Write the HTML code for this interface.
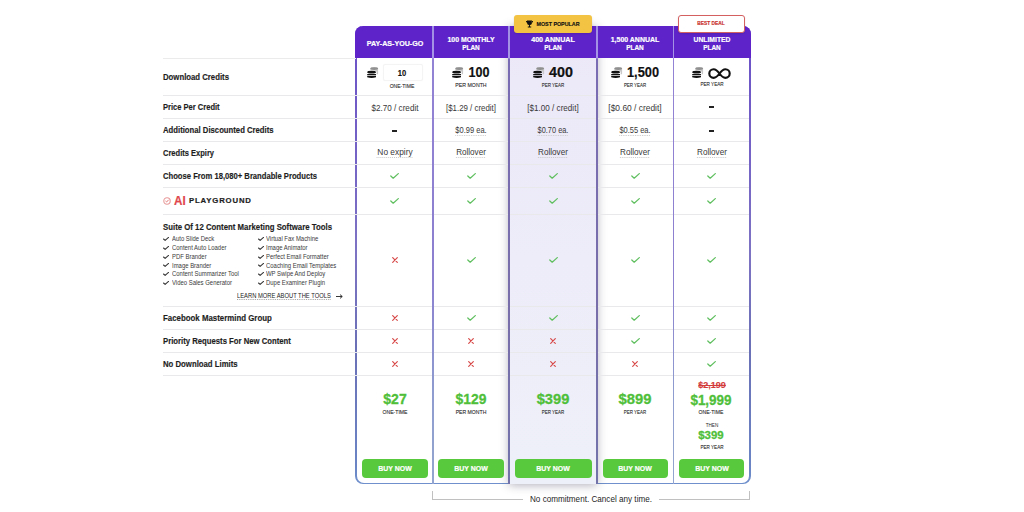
<!DOCTYPE html><html><head><meta charset="utf-8"><style>
html,body{margin:0;padding:0;background:#fff;}
body{width:1024px;height:512px;overflow:hidden;position:relative;font-family:"Liberation Sans", sans-serif;}
.t{position:absolute;white-space:nowrap;}
</style></head><body>
<div class="t" style="left:355px;top:26px;width:396px;height:458px;border-radius:8px;background:linear-gradient(#6a4fc8 0%,#7d73c3 50%,#6b70b6 70%,#6a84c4 96%,#6f90cc 100%);"></div>
<div class="t" style="left:357px;top:26px;width:392px;height:456.5px;border-radius:7px;background:#fff;"></div>
<div class="t" style="left:509px;top:26px;width:88px;height:458px;background:linear-gradient(#ece8f8,#eef0f9);box-shadow:0 1px 9px rgba(40,40,70,0.38);"></div>
<div class="t" style="left:355px;top:26px;width:396px;height:32px;border-radius:8px 8px 0 0;background:#5e24c9;"></div>
<div class="t" style="left:163px;top:95px;width:586px;height:1px;background:#e9e9eb;"></div>
<div class="t" style="left:163px;top:118px;width:586px;height:1px;background:#e9e9eb;"></div>
<div class="t" style="left:163px;top:141px;width:586px;height:1px;background:#e9e9eb;"></div>
<div class="t" style="left:163px;top:164px;width:586px;height:1px;background:#e9e9eb;"></div>
<div class="t" style="left:163px;top:187px;width:586px;height:1px;background:#e9e9eb;"></div>
<div class="t" style="left:163px;top:214px;width:586px;height:1px;background:#e9e9eb;"></div>
<div class="t" style="left:163px;top:306px;width:586px;height:1px;background:#e9e9eb;"></div>
<div class="t" style="left:163px;top:329px;width:586px;height:1px;background:#e9e9eb;"></div>
<div class="t" style="left:163px;top:352px;width:586px;height:1px;background:#e9e9eb;"></div>
<div class="t" style="left:163px;top:375px;width:586px;height:1px;background:#e9e9eb;"></div>
<div class="t" style="left:163px;top:58px;width:193px;height:1px;background:#ebebeb;"></div>
<div class="t" style="left:432px;top:26px;width:1.6px;height:458px;background:linear-gradient(#a08ee4 0px,#a795e6 32px,#9383d4 33px,#8c7fd0 55%,#8e9ccf 80%,#94a6cf);"></div>
<div class="t" style="left:508px;top:26px;width:2px;height:458px;background:linear-gradient(#a08ee4 0px,#a795e6 32px,#7a6cb4 33px,#786eaa 60%,#7373aa);"></div>
<div class="t" style="left:596px;top:26px;width:2px;height:458px;background:linear-gradient(#a08ee4 0px,#a795e6 32px,#7a6cb4 33px,#786eaa 60%,#7373aa);"></div>
<div class="t" style="left:672.5px;top:26px;width:1.5px;height:458px;background:linear-gradient(#a08ee4 0px,#a795e6 32px,#9383d4 33px,#8c7fd0 55%,#8e9ccf 80%,#94a6cf);"></div>
<div class="t" style="left:244.5px;width:300px;text-align:center;top:35.699999999999996px;height:15.2px;line-height:15.2px;font-size:7.6px;font-weight:bold;color:#fff;-webkit-text-stroke:0.2px #fff;transform:scaleX(0.9380);transform-origin:50% 50%;">PAY-AS-YOU-GO</div>
<div class="t" style="left:321.0px;width:300px;text-align:center;top:32.0px;height:15.2px;line-height:15.2px;font-size:7.6px;font-weight:bold;color:#fff;-webkit-text-stroke:0.2px #fff;transform:scaleX(0.9123);transform-origin:50% 50%;">100 MONTHLY</div>
<div class="t" style="left:321.0px;width:300px;text-align:center;top:39.9px;height:15.2px;line-height:15.2px;font-size:7.6px;font-weight:bold;color:#fff;-webkit-text-stroke:0.2px #fff;transform:scaleX(0.8514);transform-origin:50% 50%;">PLAN</div>
<div class="t" style="left:403.0px;width:300px;text-align:center;top:32.0px;height:15.2px;line-height:15.2px;font-size:7.6px;font-weight:bold;color:#fff;-webkit-text-stroke:0.2px #fff;transform:scaleX(0.9364);transform-origin:50% 50%;">400 ANNUAL</div>
<div class="t" style="left:403.0px;width:300px;text-align:center;top:39.9px;height:15.2px;line-height:15.2px;font-size:7.6px;font-weight:bold;color:#fff;-webkit-text-stroke:0.2px #fff;transform:scaleX(0.8514);transform-origin:50% 50%;">PLAN</div>
<div class="t" style="left:485.0px;width:300px;text-align:center;top:32.0px;height:15.2px;line-height:15.2px;font-size:7.6px;font-weight:bold;color:#fff;-webkit-text-stroke:0.2px #fff;transform:scaleX(0.9170);transform-origin:50% 50%;">1,500 ANNUAL</div>
<div class="t" style="left:485.0px;width:300px;text-align:center;top:39.9px;height:15.2px;line-height:15.2px;font-size:7.6px;font-weight:bold;color:#fff;-webkit-text-stroke:0.2px #fff;transform:scaleX(0.8514);transform-origin:50% 50%;">PLAN</div>
<div class="t" style="left:561.5px;width:300px;text-align:center;top:32.0px;height:15.2px;line-height:15.2px;font-size:7.6px;font-weight:bold;color:#fff;-webkit-text-stroke:0.2px #fff;transform:scaleX(0.8901);transform-origin:50% 50%;">UNLIMITED</div>
<div class="t" style="left:561.5px;width:300px;text-align:center;top:39.9px;height:15.2px;line-height:15.2px;font-size:7.6px;font-weight:bold;color:#fff;-webkit-text-stroke:0.2px #fff;transform:scaleX(0.8514);transform-origin:50% 50%;">PLAN</div>
<div class="t" style="left:514px;top:15px;width:78px;height:18px;border-radius:3px;background:#f3c443;box-shadow:0 1px 2px rgba(0,0,0,0.12);"></div>
<svg class="t" style="left:526px;top:20px" width="7" height="8" viewBox="0 0 7 8"><path d="M1 0.5 H6 V3 Q6 5 3.5 5.2 Q1 5 1 3Z M0 1 H1.2 V2.8 Q0 2.6 0 1.6Z M7 1 H5.8 V2.8 Q7 2.6 7 1.6Z M3 5 H4 V6.5 H3Z M1.8 6.5 H5.2 V7.6 H1.8Z" fill="#111"/></svg>
<div class="t" style="left:407.5px;width:300px;text-align:center;top:17.6px;height:12.4px;line-height:12.4px;font-size:6.2px;font-weight:bold;color:#111;-webkit-text-stroke:0.15px #111;transform:scaleX(0.8624);transform-origin:50% 50%;">MOST POPULAR</div>
<div class="t" style="left:678px;top:15px;width:65px;height:16px;border-radius:3px;background:#fff;border:1px solid #d46060;box-shadow:0 1px 2px rgba(0,0,0,0.12);"></div>
<div class="t" style="left:561.4px;width:300px;text-align:center;top:18.2px;height:11.6px;line-height:11.6px;font-size:5.8px;font-weight:bold;color:#c9302c;-webkit-text-stroke:0.2px #c9302c;transform:scaleX(0.8308);transform-origin:50% 50%;">BEST DEAL</div>
<div class="t" style="left:163px;top:68.6px;height:16.8px;line-height:16.8px;font-size:8.4px;font-weight:bold;color:#1e1e1e;-webkit-text-stroke:0.15px #1e1e1e;transform:scaleX(0.9269);transform-origin:0 50%;">Download Credits</div>
<div class="t" style="left:163px;top:98.6px;height:16.8px;line-height:16.8px;font-size:8.4px;font-weight:bold;color:#1e1e1e;-webkit-text-stroke:0.15px #1e1e1e;transform:scaleX(0.9006);transform-origin:0 50%;">Price Per Credit</div>
<div class="t" style="left:163px;top:121.6px;height:16.8px;line-height:16.8px;font-size:8.4px;font-weight:bold;color:#1e1e1e;-webkit-text-stroke:0.15px #1e1e1e;transform:scaleX(0.9212);transform-origin:0 50%;">Additional Discounted Credits</div>
<div class="t" style="left:163px;top:144.6px;height:16.8px;line-height:16.8px;font-size:8.4px;font-weight:bold;color:#1e1e1e;-webkit-text-stroke:0.15px #1e1e1e;transform:scaleX(0.8979);transform-origin:0 50%;">Credits Expiry</div>
<div class="t" style="left:163px;top:167.6px;height:16.8px;line-height:16.8px;font-size:8.4px;font-weight:bold;color:#1e1e1e;-webkit-text-stroke:0.15px #1e1e1e;transform:scaleX(0.9128);transform-origin:0 50%;">Choose From 18,080+ Brandable Products</div>
<div class="t" style="left:163px;top:309.6px;height:16.8px;line-height:16.8px;font-size:8.4px;font-weight:bold;color:#1e1e1e;-webkit-text-stroke:0.15px #1e1e1e;transform:scaleX(0.9389);transform-origin:0 50%;">Facebook Mastermind Group</div>
<div class="t" style="left:163px;top:332.6px;height:16.8px;line-height:16.8px;font-size:8.4px;font-weight:bold;color:#1e1e1e;-webkit-text-stroke:0.15px #1e1e1e;transform:scaleX(0.9223);transform-origin:0 50%;">Priority Requests For New Content</div>
<div class="t" style="left:163px;top:355.6px;height:16.8px;line-height:16.8px;font-size:8.4px;font-weight:bold;color:#1e1e1e;-webkit-text-stroke:0.15px #1e1e1e;transform:scaleX(0.9267);transform-origin:0 50%;">No Download Limits</div>
<svg class="t" style="left:367px;top:67px" width="12" height="12" viewBox="0 0 12 12">
<path d="M3.3 1.6 A3.9 1.4 0 0 1 11.1 1.6 L11.1 6.4 A3.9 1.4 0 0 1 3.3 6.4Z" fill="#c8c8c8"/>
<ellipse cx="7.2" cy="1.6" rx="3.9" ry="1.4" fill="#909090"/>
<path d="M-0.5 5.3 A5.1 2.0 0 0 1 9.7 5.3 L9.7 12 L-0.5 12Z" fill="#fff"/>
<ellipse cx="4.6" cy="5.2" rx="4.4" ry="1.35" fill="#111"/>
<rect x="0.2" y="7" width="8.8" height="1.3" fill="#111"/>
<path d="M0.2 9 H9 V10.2 Q4.6 11.6 0.2 10.2Z" fill="#111"/>
</svg>
<div class="t" style="left:383px;top:64px;width:38px;height:15px;border:1px solid #f4f4f4;border-radius:2px;box-shadow:0 0 1px rgba(0,0,0,0.06);"></div>
<div class="t" style="left:252.2px;width:300px;text-align:center;top:62.6px;height:19.2px;line-height:19.2px;font-size:9.6px;font-weight:bold;color:#111;-webkit-text-stroke:0.15px #111;transform:scaleX(0.7871);transform-origin:50% 50%;">10</div>
<div class="t" style="left:252.3px;width:300px;text-align:center;top:80.95px;height:11.6px;line-height:11.6px;font-size:5.8px;font-weight:normal;color:#2a2a2a;-webkit-text-stroke:0.1px #2a2a2a;transform:scaleX(0.8679);transform-origin:50% 50%;">ONE-TIME</div>
<svg class="t" style="left:452px;top:67px" width="12" height="12" viewBox="0 0 12 12">
<path d="M3.3 1.6 A3.9 1.4 0 0 1 11.1 1.6 L11.1 6.4 A3.9 1.4 0 0 1 3.3 6.4Z" fill="#c8c8c8"/>
<ellipse cx="7.2" cy="1.6" rx="3.9" ry="1.4" fill="#909090"/>
<path d="M-0.5 5.3 A5.1 2.0 0 0 1 9.7 5.3 L9.7 12 L-0.5 12Z" fill="#fff"/>
<ellipse cx="4.6" cy="5.2" rx="4.4" ry="1.35" fill="#111"/>
<rect x="0.2" y="7" width="8.8" height="1.3" fill="#111"/>
<path d="M0.2 9 H9 V10.2 Q4.6 11.6 0.2 10.2Z" fill="#111"/>
</svg>
<div class="t" style="left:328.5px;width:300px;text-align:center;top:58.60000000000001px;height:27.6px;line-height:27.6px;font-size:13.8px;font-weight:bold;color:#111;-webkit-text-stroke:0.2px #111;transform:scaleX(0.9118);transform-origin:50% 50%;">100</div>
<div class="t" style="left:321.0px;width:300px;text-align:center;top:80.0px;height:11.6px;line-height:11.6px;font-size:5.8px;font-weight:normal;color:#2a2a2a;-webkit-text-stroke:0.1px #2a2a2a;transform:scaleX(0.8995);transform-origin:50% 50%;">PER MONTH</div>
<svg class="t" style="left:532.5px;top:67px" width="12" height="12" viewBox="0 0 12 12">
<path d="M3.3 1.6 A3.9 1.4 0 0 1 11.1 1.6 L11.1 6.4 A3.9 1.4 0 0 1 3.3 6.4Z" fill="#c8c8c8"/>
<ellipse cx="7.2" cy="1.6" rx="3.9" ry="1.4" fill="#909090"/>
<path d="M-0.5 5.3 A5.1 2.0 0 0 1 9.7 5.3 L9.7 12 L-0.5 12Z" fill="#ece8f8"/>
<ellipse cx="4.6" cy="5.2" rx="4.4" ry="1.35" fill="#111"/>
<rect x="0.2" y="7" width="8.8" height="1.3" fill="#111"/>
<path d="M0.2 9 H9 V10.2 Q4.6 11.6 0.2 10.2Z" fill="#111"/>
</svg>
<div class="t" style="left:411px;width:300px;text-align:center;top:58.60000000000001px;height:27.6px;line-height:27.6px;font-size:13.8px;font-weight:bold;color:#111;-webkit-text-stroke:0.2px #111;transform:scaleX(1.0377);transform-origin:50% 50%;">400</div>
<div class="t" style="left:403.0px;width:300px;text-align:center;top:80.0px;height:11.6px;line-height:11.6px;font-size:5.8px;font-weight:normal;color:#2a2a2a;-webkit-text-stroke:0.1px #2a2a2a;transform:scaleX(0.7666);transform-origin:50% 50%;">PER YEAR</div>
<svg class="t" style="left:610.5px;top:67px" width="12" height="12" viewBox="0 0 12 12">
<path d="M3.3 1.6 A3.9 1.4 0 0 1 11.1 1.6 L11.1 6.4 A3.9 1.4 0 0 1 3.3 6.4Z" fill="#c8c8c8"/>
<ellipse cx="7.2" cy="1.6" rx="3.9" ry="1.4" fill="#909090"/>
<path d="M-0.5 5.3 A5.1 2.0 0 0 1 9.7 5.3 L9.7 12 L-0.5 12Z" fill="#fff"/>
<ellipse cx="4.6" cy="5.2" rx="4.4" ry="1.35" fill="#111"/>
<rect x="0.2" y="7" width="8.8" height="1.3" fill="#111"/>
<path d="M0.2 9 H9 V10.2 Q4.6 11.6 0.2 10.2Z" fill="#111"/>
</svg>
<div class="t" style="left:493px;width:300px;text-align:center;top:58.60000000000001px;height:27.6px;line-height:27.6px;font-size:13.8px;font-weight:bold;color:#111;-webkit-text-stroke:0.2px #111;transform:scaleX(0.9267);transform-origin:50% 50%;">1,500</div>
<div class="t" style="left:485.0px;width:300px;text-align:center;top:80.0px;height:11.6px;line-height:11.6px;font-size:5.8px;font-weight:normal;color:#2a2a2a;-webkit-text-stroke:0.1px #2a2a2a;transform:scaleX(0.7598);transform-origin:50% 50%;">PER YEAR</div>
<svg class="t" style="left:691.5px;top:67px" width="12" height="12" viewBox="0 0 12 12">
<path d="M3.3 1.6 A3.9 1.4 0 0 1 11.1 1.6 L11.1 6.4 A3.9 1.4 0 0 1 3.3 6.4Z" fill="#c8c8c8"/>
<ellipse cx="7.2" cy="1.6" rx="3.9" ry="1.4" fill="#909090"/>
<path d="M-0.5 5.3 A5.1 2.0 0 0 1 9.7 5.3 L9.7 12 L-0.5 12Z" fill="#fff"/>
<ellipse cx="4.6" cy="5.2" rx="4.4" ry="1.35" fill="#111"/>
<rect x="0.2" y="7" width="8.8" height="1.3" fill="#111"/>
<path d="M0.2 9 H9 V10.2 Q4.6 11.6 0.2 10.2Z" fill="#111"/>
</svg>
<svg class="t" style="left:708px;top:67.5px" width="23" height="11" viewBox="0 0 23 11"><path d="M11.5 5.5 C9 2 7.5 1.2 5.6 1.2 C3.2 1.2 1.3 3.1 1.3 5.5 C1.3 7.9 3.2 9.8 5.6 9.8 C7.5 9.8 9 9 11.5 5.5 C14 2 15.5 1.2 17.4 1.2 C19.8 1.2 21.7 3.1 21.7 5.5 C21.7 7.9 19.8 9.8 17.4 9.8 C15.5 9.8 14 9 11.5 5.5Z" fill="none" stroke="#111" stroke-width="2.15"/></svg>
<div class="t" style="left:561.6px;width:300px;text-align:center;top:78.8px;height:11.6px;line-height:11.6px;font-size:5.8px;font-weight:normal;color:#2a2a2a;-webkit-text-stroke:0.1px #2a2a2a;transform:scaleX(0.7940);transform-origin:50% 50%;">PER YEAR</div>
<div class="t" style="left:244.5px;width:300px;text-align:center;top:99.9px;height:17.2px;line-height:17.2px;font-size:8.6px;font-weight:normal;color:#383838;transform:scaleX(0.9439);transform-origin:50% 50%;">$2.70 / credit</div>
<div class="t" style="left:392.0px;top:130px;width:5px;height:1.6px;background:#222;"></div>
<div class="t" style="left:244.5px;width:300px;text-align:center;top:144.3px;height:17.2px;line-height:17.2px;font-size:8.6px;font-weight:normal;color:#383838;text-decoration:underline dotted #c8c8c8;text-underline-offset:1.6px;transform:scaleX(0.9712);transform-origin:50% 50%;">No expiry</div>
<div class="t" style="left:321.0px;width:300px;text-align:center;top:99.9px;height:17.2px;line-height:17.2px;font-size:8.6px;font-weight:normal;color:#383838;transform:scaleX(0.9180);transform-origin:50% 50%;">[$1.29 / credit]</div>
<div class="t" style="left:321.0px;width:300px;text-align:center;top:121.5px;height:17.2px;line-height:17.2px;font-size:8.6px;font-weight:normal;color:#383838;text-decoration:underline dotted #c8c8c8;text-underline-offset:1.6px;transform:scaleX(0.8732);transform-origin:50% 50%;">$0.99 ea.</div>
<div class="t" style="left:321.0px;width:300px;text-align:center;top:144.3px;height:17.2px;line-height:17.2px;font-size:8.6px;font-weight:normal;color:#383838;text-decoration:underline dotted #c8c8c8;text-underline-offset:1.6px;transform:scaleX(0.9419);transform-origin:50% 50%;">Rollover</div>
<div class="t" style="left:403.0px;width:300px;text-align:center;top:99.9px;height:17.2px;line-height:17.2px;font-size:8.6px;font-weight:normal;color:#383838;transform:scaleX(0.9418);transform-origin:50% 50%;">[$1.00 / credit]</div>
<div class="t" style="left:403.0px;width:300px;text-align:center;top:121.5px;height:17.2px;line-height:17.2px;font-size:8.6px;font-weight:normal;color:#383838;text-decoration:underline dotted #c8c8c8;text-underline-offset:1.6px;transform:scaleX(0.8593);transform-origin:50% 50%;">$0.70 ea.</div>
<div class="t" style="left:403.0px;width:300px;text-align:center;top:144.3px;height:17.2px;line-height:17.2px;font-size:8.6px;font-weight:normal;color:#383838;text-decoration:underline dotted #c8c8c8;text-underline-offset:1.6px;transform:scaleX(0.9451);transform-origin:50% 50%;">Rollover</div>
<div class="t" style="left:485.0px;width:300px;text-align:center;top:99.9px;height:17.2px;line-height:17.2px;font-size:8.6px;font-weight:normal;color:#383838;transform:scaleX(0.9785);transform-origin:50% 50%;">[$0.60 / credit]</div>
<div class="t" style="left:485.0px;width:300px;text-align:center;top:121.5px;height:17.2px;line-height:17.2px;font-size:8.6px;font-weight:normal;color:#383838;text-decoration:underline dotted #c8c8c8;text-underline-offset:1.6px;transform:scaleX(0.8704);transform-origin:50% 50%;">$0.55 ea.</div>
<div class="t" style="left:485.0px;width:300px;text-align:center;top:144.3px;height:17.2px;line-height:17.2px;font-size:8.6px;font-weight:normal;color:#383838;text-decoration:underline dotted #c8c8c8;text-underline-offset:1.6px;transform:scaleX(0.9451);transform-origin:50% 50%;">Rollover</div>
<div class="t" style="left:709.0px;top:106px;width:5px;height:1.6px;background:#222;"></div>
<div class="t" style="left:709.0px;top:130px;width:5px;height:1.6px;background:#222;"></div>
<div class="t" style="left:561.5px;width:300px;text-align:center;top:144.3px;height:17.2px;line-height:17.2px;font-size:8.6px;font-weight:normal;color:#383838;text-decoration:underline dotted #c8c8c8;text-underline-offset:1.6px;transform:scaleX(0.9451);transform-origin:50% 50%;">Rollover</div>
<svg class="t" style="left:390.0px;top:172.5px" width="9" height="6" viewBox="0 0 9 6"><path d="M0.8 3 L3.2 5.2 L8.3 0.6" fill="none" stroke="#5fbf5f" stroke-width="1.25" stroke-linecap="round" stroke-linejoin="round"/></svg>
<svg class="t" style="left:466.5px;top:172.5px" width="9" height="6" viewBox="0 0 9 6"><path d="M0.8 3 L3.2 5.2 L8.3 0.6" fill="none" stroke="#5fbf5f" stroke-width="1.25" stroke-linecap="round" stroke-linejoin="round"/></svg>
<svg class="t" style="left:548.5px;top:172.5px" width="9" height="6" viewBox="0 0 9 6"><path d="M0.8 3 L3.2 5.2 L8.3 0.6" fill="none" stroke="#5fbf5f" stroke-width="1.25" stroke-linecap="round" stroke-linejoin="round"/></svg>
<svg class="t" style="left:630.5px;top:172.5px" width="9" height="6" viewBox="0 0 9 6"><path d="M0.8 3 L3.2 5.2 L8.3 0.6" fill="none" stroke="#5fbf5f" stroke-width="1.25" stroke-linecap="round" stroke-linejoin="round"/></svg>
<svg class="t" style="left:707.0px;top:172.5px" width="9" height="6" viewBox="0 0 9 6"><path d="M0.8 3 L3.2 5.2 L8.3 0.6" fill="none" stroke="#5fbf5f" stroke-width="1.25" stroke-linecap="round" stroke-linejoin="round"/></svg>
<svg class="t" style="left:390.0px;top:197.5px" width="9" height="6" viewBox="0 0 9 6"><path d="M0.8 3 L3.2 5.2 L8.3 0.6" fill="none" stroke="#5fbf5f" stroke-width="1.25" stroke-linecap="round" stroke-linejoin="round"/></svg>
<svg class="t" style="left:466.5px;top:197.5px" width="9" height="6" viewBox="0 0 9 6"><path d="M0.8 3 L3.2 5.2 L8.3 0.6" fill="none" stroke="#5fbf5f" stroke-width="1.25" stroke-linecap="round" stroke-linejoin="round"/></svg>
<svg class="t" style="left:548.5px;top:197.5px" width="9" height="6" viewBox="0 0 9 6"><path d="M0.8 3 L3.2 5.2 L8.3 0.6" fill="none" stroke="#5fbf5f" stroke-width="1.25" stroke-linecap="round" stroke-linejoin="round"/></svg>
<svg class="t" style="left:630.5px;top:197.5px" width="9" height="6" viewBox="0 0 9 6"><path d="M0.8 3 L3.2 5.2 L8.3 0.6" fill="none" stroke="#5fbf5f" stroke-width="1.25" stroke-linecap="round" stroke-linejoin="round"/></svg>
<svg class="t" style="left:707.0px;top:197.5px" width="9" height="6" viewBox="0 0 9 6"><path d="M0.8 3 L3.2 5.2 L8.3 0.6" fill="none" stroke="#5fbf5f" stroke-width="1.25" stroke-linecap="round" stroke-linejoin="round"/></svg>
<svg class="t" style="left:391.5px;top:257.0px" width="6" height="6" viewBox="0 0 6 6"><path d="M0.7 0.7 L5.3 5.3 M5.3 0.7 L0.7 5.3" fill="none" stroke="#d84a4a" stroke-width="1.2" stroke-linecap="round"/></svg>
<svg class="t" style="left:466.5px;top:257.0px" width="9" height="6" viewBox="0 0 9 6"><path d="M0.8 3 L3.2 5.2 L8.3 0.6" fill="none" stroke="#5fbf5f" stroke-width="1.25" stroke-linecap="round" stroke-linejoin="round"/></svg>
<svg class="t" style="left:548.5px;top:257.0px" width="9" height="6" viewBox="0 0 9 6"><path d="M0.8 3 L3.2 5.2 L8.3 0.6" fill="none" stroke="#5fbf5f" stroke-width="1.25" stroke-linecap="round" stroke-linejoin="round"/></svg>
<svg class="t" style="left:630.5px;top:257.0px" width="9" height="6" viewBox="0 0 9 6"><path d="M0.8 3 L3.2 5.2 L8.3 0.6" fill="none" stroke="#5fbf5f" stroke-width="1.25" stroke-linecap="round" stroke-linejoin="round"/></svg>
<svg class="t" style="left:707.0px;top:257.0px" width="9" height="6" viewBox="0 0 9 6"><path d="M0.8 3 L3.2 5.2 L8.3 0.6" fill="none" stroke="#5fbf5f" stroke-width="1.25" stroke-linecap="round" stroke-linejoin="round"/></svg>
<svg class="t" style="left:391.5px;top:314.5px" width="6" height="6" viewBox="0 0 6 6"><path d="M0.7 0.7 L5.3 5.3 M5.3 0.7 L0.7 5.3" fill="none" stroke="#d84a4a" stroke-width="1.2" stroke-linecap="round"/></svg>
<svg class="t" style="left:466.5px;top:314.5px" width="9" height="6" viewBox="0 0 9 6"><path d="M0.8 3 L3.2 5.2 L8.3 0.6" fill="none" stroke="#5fbf5f" stroke-width="1.25" stroke-linecap="round" stroke-linejoin="round"/></svg>
<svg class="t" style="left:548.5px;top:314.5px" width="9" height="6" viewBox="0 0 9 6"><path d="M0.8 3 L3.2 5.2 L8.3 0.6" fill="none" stroke="#5fbf5f" stroke-width="1.25" stroke-linecap="round" stroke-linejoin="round"/></svg>
<svg class="t" style="left:630.5px;top:314.5px" width="9" height="6" viewBox="0 0 9 6"><path d="M0.8 3 L3.2 5.2 L8.3 0.6" fill="none" stroke="#5fbf5f" stroke-width="1.25" stroke-linecap="round" stroke-linejoin="round"/></svg>
<svg class="t" style="left:707.0px;top:314.5px" width="9" height="6" viewBox="0 0 9 6"><path d="M0.8 3 L3.2 5.2 L8.3 0.6" fill="none" stroke="#5fbf5f" stroke-width="1.25" stroke-linecap="round" stroke-linejoin="round"/></svg>
<svg class="t" style="left:391.5px;top:337.5px" width="6" height="6" viewBox="0 0 6 6"><path d="M0.7 0.7 L5.3 5.3 M5.3 0.7 L0.7 5.3" fill="none" stroke="#d84a4a" stroke-width="1.2" stroke-linecap="round"/></svg>
<svg class="t" style="left:468.0px;top:337.5px" width="6" height="6" viewBox="0 0 6 6"><path d="M0.7 0.7 L5.3 5.3 M5.3 0.7 L0.7 5.3" fill="none" stroke="#d84a4a" stroke-width="1.2" stroke-linecap="round"/></svg>
<svg class="t" style="left:550.0px;top:337.5px" width="6" height="6" viewBox="0 0 6 6"><path d="M0.7 0.7 L5.3 5.3 M5.3 0.7 L0.7 5.3" fill="none" stroke="#d84a4a" stroke-width="1.2" stroke-linecap="round"/></svg>
<svg class="t" style="left:630.5px;top:337.5px" width="9" height="6" viewBox="0 0 9 6"><path d="M0.8 3 L3.2 5.2 L8.3 0.6" fill="none" stroke="#5fbf5f" stroke-width="1.25" stroke-linecap="round" stroke-linejoin="round"/></svg>
<svg class="t" style="left:707.0px;top:337.5px" width="9" height="6" viewBox="0 0 9 6"><path d="M0.8 3 L3.2 5.2 L8.3 0.6" fill="none" stroke="#5fbf5f" stroke-width="1.25" stroke-linecap="round" stroke-linejoin="round"/></svg>
<svg class="t" style="left:391.5px;top:360.5px" width="6" height="6" viewBox="0 0 6 6"><path d="M0.7 0.7 L5.3 5.3 M5.3 0.7 L0.7 5.3" fill="none" stroke="#d84a4a" stroke-width="1.2" stroke-linecap="round"/></svg>
<svg class="t" style="left:468.0px;top:360.5px" width="6" height="6" viewBox="0 0 6 6"><path d="M0.7 0.7 L5.3 5.3 M5.3 0.7 L0.7 5.3" fill="none" stroke="#d84a4a" stroke-width="1.2" stroke-linecap="round"/></svg>
<svg class="t" style="left:550.0px;top:360.5px" width="6" height="6" viewBox="0 0 6 6"><path d="M0.7 0.7 L5.3 5.3 M5.3 0.7 L0.7 5.3" fill="none" stroke="#d84a4a" stroke-width="1.2" stroke-linecap="round"/></svg>
<svg class="t" style="left:632.0px;top:360.5px" width="6" height="6" viewBox="0 0 6 6"><path d="M0.7 0.7 L5.3 5.3 M5.3 0.7 L0.7 5.3" fill="none" stroke="#d84a4a" stroke-width="1.2" stroke-linecap="round"/></svg>
<svg class="t" style="left:707.0px;top:360.5px" width="9" height="6" viewBox="0 0 9 6"><path d="M0.8 3 L3.2 5.2 L8.3 0.6" fill="none" stroke="#5fbf5f" stroke-width="1.25" stroke-linecap="round" stroke-linejoin="round"/></svg>
<svg class="t" style="left:163px;top:197px" width="8" height="8" viewBox="0 0 8 8"><circle cx="4" cy="4" r="3.2" fill="none" stroke="#e89a9a" stroke-width="1.1"/><path d="M2.5 4 L3.6 5 L5.6 2.8" fill="none" stroke="#e06a6a" stroke-width="0.9"/></svg>
<div class="t" style="left:174.1px;top:187.79999999999998px;height:25.6px;line-height:25.6px;font-size:12.8px;font-weight:bold;color:#e0474c;-webkit-text-stroke:0.2px #e0474c;transform:scaleX(0.9132);transform-origin:0 50%;">AI</div>
<div class="t" style="left:189.3px;top:194.2px;height:14.8px;line-height:14.8px;font-size:7.4px;font-weight:bold;color:#1e1e1e;letter-spacing:0.8px;-webkit-text-stroke:0.2px #1e1e1e;transform:scaleX(1.0486);transform-origin:0 50%;">PLAYGROUND</div>
<div class="t" style="left:163px;top:219.0px;height:16.8px;line-height:16.8px;font-size:8.4px;font-weight:bold;color:#1e1e1e;-webkit-text-stroke:0.15px #1e1e1e;transform:scaleX(0.9320);transform-origin:0 50%;">Suite Of 12 Content Marketing Software Tools</div>
<svg class="t" style="left:163px;top:236.7px" width="6" height="4" viewBox="0 0 9 6"><path d="M0.8 3 L3.2 5.2 L8.3 0.6" fill="none" stroke="#333" stroke-width="1.6" stroke-linecap="round" stroke-linejoin="round"/></svg>
<div class="t" style="left:172.2px;top:232.1px;height:13.2px;line-height:13.2px;font-size:6.6px;font-weight:normal;color:#3a3a3a;transform:scaleX(0.9);transform-origin:0 50%;">Auto Slide Deck</div>
<svg class="t" style="left:257.5px;top:236.7px" width="6" height="4" viewBox="0 0 9 6"><path d="M0.8 3 L3.2 5.2 L8.3 0.6" fill="none" stroke="#333" stroke-width="1.6" stroke-linecap="round" stroke-linejoin="round"/></svg>
<div class="t" style="left:266.3px;top:232.1px;height:13.2px;line-height:13.2px;font-size:6.6px;font-weight:normal;color:#3a3a3a;transform:scaleX(0.9);transform-origin:0 50%;">Virtual Fax Machine</div>
<svg class="t" style="left:163px;top:245.5px" width="6" height="4" viewBox="0 0 9 6"><path d="M0.8 3 L3.2 5.2 L8.3 0.6" fill="none" stroke="#333" stroke-width="1.6" stroke-linecap="round" stroke-linejoin="round"/></svg>
<div class="t" style="left:172.2px;top:240.9px;height:13.2px;line-height:13.2px;font-size:6.6px;font-weight:normal;color:#3a3a3a;transform:scaleX(0.9);transform-origin:0 50%;">Content Auto Loader</div>
<svg class="t" style="left:257.5px;top:245.5px" width="6" height="4" viewBox="0 0 9 6"><path d="M0.8 3 L3.2 5.2 L8.3 0.6" fill="none" stroke="#333" stroke-width="1.6" stroke-linecap="round" stroke-linejoin="round"/></svg>
<div class="t" style="left:266.3px;top:240.9px;height:13.2px;line-height:13.2px;font-size:6.6px;font-weight:normal;color:#3a3a3a;transform:scaleX(0.9);transform-origin:0 50%;">Image Animator</div>
<svg class="t" style="left:163px;top:254.5px" width="6" height="4" viewBox="0 0 9 6"><path d="M0.8 3 L3.2 5.2 L8.3 0.6" fill="none" stroke="#333" stroke-width="1.6" stroke-linecap="round" stroke-linejoin="round"/></svg>
<div class="t" style="left:172.2px;top:249.9px;height:13.2px;line-height:13.2px;font-size:6.6px;font-weight:normal;color:#3a3a3a;transform:scaleX(0.9);transform-origin:0 50%;">PDF Brander</div>
<svg class="t" style="left:257.5px;top:254.5px" width="6" height="4" viewBox="0 0 9 6"><path d="M0.8 3 L3.2 5.2 L8.3 0.6" fill="none" stroke="#333" stroke-width="1.6" stroke-linecap="round" stroke-linejoin="round"/></svg>
<div class="t" style="left:266.3px;top:249.9px;height:13.2px;line-height:13.2px;font-size:6.6px;font-weight:normal;color:#3a3a3a;transform:scaleX(0.9);transform-origin:0 50%;">Perfect Email Formatter</div>
<svg class="t" style="left:163px;top:263.3px" width="6" height="4" viewBox="0 0 9 6"><path d="M0.8 3 L3.2 5.2 L8.3 0.6" fill="none" stroke="#333" stroke-width="1.6" stroke-linecap="round" stroke-linejoin="round"/></svg>
<div class="t" style="left:172.2px;top:258.7px;height:13.2px;line-height:13.2px;font-size:6.6px;font-weight:normal;color:#3a3a3a;transform:scaleX(0.9);transform-origin:0 50%;">Image Brander</div>
<svg class="t" style="left:257.5px;top:263.3px" width="6" height="4" viewBox="0 0 9 6"><path d="M0.8 3 L3.2 5.2 L8.3 0.6" fill="none" stroke="#333" stroke-width="1.6" stroke-linecap="round" stroke-linejoin="round"/></svg>
<div class="t" style="left:266.3px;top:258.7px;height:13.2px;line-height:13.2px;font-size:6.6px;font-weight:normal;color:#3a3a3a;transform:scaleX(0.9);transform-origin:0 50%;">Coaching Email Templates</div>
<svg class="t" style="left:163px;top:272px" width="6" height="4" viewBox="0 0 9 6"><path d="M0.8 3 L3.2 5.2 L8.3 0.6" fill="none" stroke="#333" stroke-width="1.6" stroke-linecap="round" stroke-linejoin="round"/></svg>
<div class="t" style="left:172.2px;top:267.4px;height:13.2px;line-height:13.2px;font-size:6.6px;font-weight:normal;color:#3a3a3a;transform:scaleX(0.9);transform-origin:0 50%;">Content Summarizer Tool</div>
<svg class="t" style="left:257.5px;top:272px" width="6" height="4" viewBox="0 0 9 6"><path d="M0.8 3 L3.2 5.2 L8.3 0.6" fill="none" stroke="#333" stroke-width="1.6" stroke-linecap="round" stroke-linejoin="round"/></svg>
<div class="t" style="left:266.3px;top:267.4px;height:13.2px;line-height:13.2px;font-size:6.6px;font-weight:normal;color:#3a3a3a;transform:scaleX(0.9);transform-origin:0 50%;">WP Swipe And Deploy</div>
<svg class="t" style="left:163px;top:281px" width="6" height="4" viewBox="0 0 9 6"><path d="M0.8 3 L3.2 5.2 L8.3 0.6" fill="none" stroke="#333" stroke-width="1.6" stroke-linecap="round" stroke-linejoin="round"/></svg>
<div class="t" style="left:172.2px;top:276.4px;height:13.2px;line-height:13.2px;font-size:6.6px;font-weight:normal;color:#3a3a3a;transform:scaleX(0.9);transform-origin:0 50%;">Video Sales Generator</div>
<svg class="t" style="left:257.5px;top:281px" width="6" height="4" viewBox="0 0 9 6"><path d="M0.8 3 L3.2 5.2 L8.3 0.6" fill="none" stroke="#333" stroke-width="1.6" stroke-linecap="round" stroke-linejoin="round"/></svg>
<div class="t" style="left:266.3px;top:276.4px;height:13.2px;line-height:13.2px;font-size:6.6px;font-weight:normal;color:#3a3a3a;transform:scaleX(0.9);transform-origin:0 50%;">Dupe Examiner Plugin</div>
<div class="t" style="left:237px;top:289.6px;height:12.8px;line-height:12.8px;font-size:6.4px;font-weight:normal;color:#222;text-decoration:underline dotted #999;text-underline-offset:1.2px;transform:scaleX(0.9086);transform-origin:0 50%;">LEARN MORE ABOUT THE TOOLS</div>
<svg class="t" style="left:336px;top:293.5px" width="7" height="5" viewBox="0 0 7 5"><path d="M0 2.5 H6 M4 0.6 L6.3 2.5 L4 4.4" fill="none" stroke="#222" stroke-width="0.9"/></svg>
<div class="t" style="left:244.5px;width:300px;text-align:center;top:385.0px;height:29.0px;line-height:29.0px;font-size:14.5px;font-weight:bold;color:#4fbf3a;-webkit-text-stroke:0.3px #4fbf3a;transform:scaleX(0.9668);transform-origin:50% 50%;">$27</div>
<div class="t" style="left:244.5px;width:300px;text-align:center;top:407.09999999999997px;height:11.2px;line-height:11.2px;font-size:5.6px;font-weight:normal;color:#2a2a2a;-webkit-text-stroke:0.1px #2a2a2a;transform:scaleX(0.9101);transform-origin:50% 50%;">ONE-TIME</div>
<div class="t" style="left:321.0px;width:300px;text-align:center;top:385.0px;height:29.0px;line-height:29.0px;font-size:14.5px;font-weight:bold;color:#4fbf3a;-webkit-text-stroke:0.3px #4fbf3a;transform:scaleX(0.9546);transform-origin:50% 50%;">$129</div>
<div class="t" style="left:321.0px;width:300px;text-align:center;top:407.09999999999997px;height:11.2px;line-height:11.2px;font-size:5.6px;font-weight:normal;color:#2a2a2a;-webkit-text-stroke:0.1px #2a2a2a;transform:scaleX(0.9147);transform-origin:50% 50%;">PER MONTH</div>
<div class="t" style="left:403.0px;width:300px;text-align:center;top:385.0px;height:29.0px;line-height:29.0px;font-size:14.5px;font-weight:bold;color:#4fbf3a;-webkit-text-stroke:0.3px #4fbf3a;transform:scaleX(1.0104);transform-origin:50% 50%;">$399</div>
<div class="t" style="left:403.0px;width:300px;text-align:center;top:407.09999999999997px;height:11.2px;line-height:11.2px;font-size:5.6px;font-weight:normal;color:#2a2a2a;-webkit-text-stroke:0.1px #2a2a2a;transform:scaleX(0.7911);transform-origin:50% 50%;">PER YEAR</div>
<div class="t" style="left:485.0px;width:300px;text-align:center;top:385.0px;height:29.0px;line-height:29.0px;font-size:14.5px;font-weight:bold;color:#4fbf3a;-webkit-text-stroke:0.3px #4fbf3a;transform:scaleX(1.0197);transform-origin:50% 50%;">$899</div>
<div class="t" style="left:485.0px;width:300px;text-align:center;top:407.09999999999997px;height:11.2px;line-height:11.2px;font-size:5.6px;font-weight:normal;color:#2a2a2a;-webkit-text-stroke:0.1px #2a2a2a;transform:scaleX(0.7911);transform-origin:50% 50%;">PER YEAR</div>
<div class="t" style="left:561.6px;width:300px;text-align:center;top:375.4px;height:19.2px;line-height:19.2px;font-size:9.6px;font-weight:bold;color:#d33a3a;text-decoration:line-through;-webkit-text-stroke:0.15px #d33a3a;transform:scaleX(0.9406);transform-origin:50% 50%;">$2,199</div>
<div class="t" style="left:561.4px;width:300px;text-align:center;top:385.8px;height:29.0px;line-height:29.0px;font-size:14.5px;font-weight:bold;color:#4fbf3a;-webkit-text-stroke:0.3px #4fbf3a;transform:scaleX(0.9288);transform-origin:50% 50%;">$1,999</div>
<div class="t" style="left:561.4px;width:300px;text-align:center;top:407.2px;height:11.2px;line-height:11.2px;font-size:5.6px;font-weight:normal;color:#2a2a2a;-webkit-text-stroke:0.1px #2a2a2a;transform:scaleX(0.9065);transform-origin:50% 50%;">ONE-TIME</div>
<div class="t" style="left:561.7px;width:300px;text-align:center;top:420.4px;height:10px;line-height:10px;font-size:5px;font-weight:normal;color:#2a2a2a;transform:scaleX(0.9248);transform-origin:50% 50%;">THEN</div>
<div class="t" style="left:561.45px;width:300px;text-align:center;top:424.09999999999997px;height:23.6px;line-height:23.6px;font-size:11.8px;font-weight:bold;color:#4fbf3a;-webkit-text-stroke:0.3px #4fbf3a;transform:scaleX(0.9714);transform-origin:50% 50%;">$399</div>
<div class="t" style="left:561.5px;width:300px;text-align:center;top:441.5px;height:11.2px;line-height:11.2px;font-size:5.6px;font-weight:normal;color:#2a2a2a;-webkit-text-stroke:0.1px #2a2a2a;transform:scaleX(0.8160);transform-origin:50% 50%;">PER YEAR</div>
<div class="t" style="left:362px;top:458.5px;width:65.5px;height:19.5px;border-radius:4px;background:#58c83c;"></div>
<div class="t" style="left:244.75px;width:300px;text-align:center;top:460.7px;height:15.2px;line-height:15.2px;font-size:7.6px;font-weight:bold;color:#fff;-webkit-text-stroke:0.2px #fff;transform:scaleX(0.9158);transform-origin:50% 50%;">BUY NOW</div>
<div class="t" style="left:438px;top:458.5px;width:66px;height:19.5px;border-radius:4px;background:#58c83c;"></div>
<div class="t" style="left:321.0px;width:300px;text-align:center;top:460.7px;height:15.2px;line-height:15.2px;font-size:7.6px;font-weight:bold;color:#fff;-webkit-text-stroke:0.2px #fff;transform:scaleX(0.9158);transform-origin:50% 50%;">BUY NOW</div>
<div class="t" style="left:514.5px;top:458.5px;width:77.5px;height:19.5px;border-radius:4px;background:#58c83c;"></div>
<div class="t" style="left:403.25px;width:300px;text-align:center;top:460.7px;height:15.2px;line-height:15.2px;font-size:7.6px;font-weight:bold;color:#fff;-webkit-text-stroke:0.2px #fff;transform:scaleX(0.9158);transform-origin:50% 50%;">BUY NOW</div>
<div class="t" style="left:602.5px;top:458.5px;width:65.0px;height:19.5px;border-radius:4px;background:#58c83c;"></div>
<div class="t" style="left:485.0px;width:300px;text-align:center;top:460.7px;height:15.2px;line-height:15.2px;font-size:7.6px;font-weight:bold;color:#fff;-webkit-text-stroke:0.2px #fff;transform:scaleX(0.9158);transform-origin:50% 50%;">BUY NOW</div>
<div class="t" style="left:679px;top:458.5px;width:65px;height:19.5px;border-radius:4px;background:#58c83c;"></div>
<div class="t" style="left:561.5px;width:300px;text-align:center;top:460.7px;height:15.2px;line-height:15.2px;font-size:7.6px;font-weight:bold;color:#fff;-webkit-text-stroke:0.2px #fff;transform:scaleX(0.9158);transform-origin:50% 50%;">BUY NOW</div>
<div class="t" style="left:432px;top:491px;width:90px;height:8px;border-left:1px solid #c0c0c0;border-bottom:1px solid #c0c0c0;"></div>
<div class="t" style="left:659px;top:491px;width:90px;height:8px;border-right:1px solid #c0c0c0;border-bottom:1px solid #c0c0c0;"></div>
<div class="t" style="left:441px;width:300px;text-align:center;top:490.7px;height:17.2px;line-height:17.2px;font-size:8.6px;font-weight:normal;color:#1e1e1e;transform:scaleX(0.9461);transform-origin:50% 50%;">No commitment. Cancel any time.</div>
</body></html>
